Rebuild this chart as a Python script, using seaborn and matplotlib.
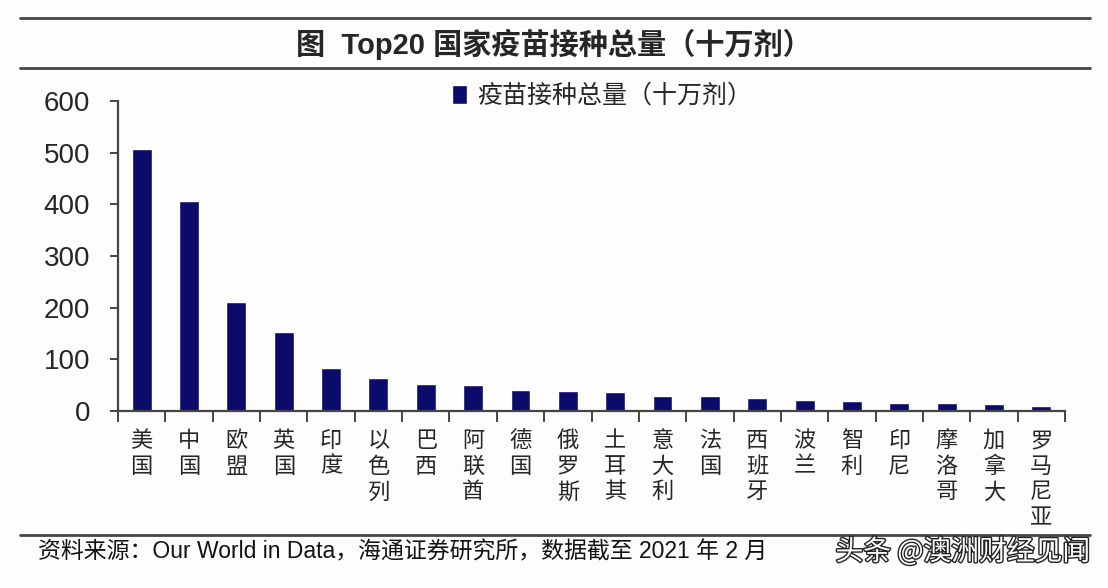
import matplotlib
matplotlib.use("Agg")
import matplotlib.pyplot as plt
import matplotlib.patheffects as pe
from matplotlib.lines import Line2D
import seaborn as sns
import pandas as pd

countries = ["美国", "中国", "欧盟", "英国", "印度", "以色列", "巴西", "阿联酋", "德国", "俄罗斯",
             "土耳其", "意大利", "法国", "西班牙", "波兰", "智利", "印尼", "摩洛哥", "加拿大", "罗马尼亚"]
doses = [507, 406, 211, 152, 84, 64, 52, 51, 40.5, 39,
         37, 29.6, 28.3, 24.5, 20.6, 19.3, 15.5, 14.8, 12.9, 10.3]
series_name = "疫苗接种总量（十万剂）"
title = "图  Top20 国家疫苗接种总量（十万剂）"
source = "资料来源：Our World in Data，海通证券研究所，数据截至 2021 年 2 月"
watermark = "头条 @澳洲财经见闻"
yticks = [0, 100, 200, 300, 400, 500, 600]

sns.set_style("white")
plt.rcParams['font.family'] = ['Liberation Sans', 'Noto Sans CJK SC', 'DejaVu Sans']

df = pd.DataFrame({"country": countries, "doses": doses})

fig = plt.figure(figsize=(11.08, 5.88), dpi=100)
fig.patch.set_facecolor("#fdfdfd")
ax = fig.add_axes([118/1108, 1-411/588, (1065-118)/1108, (411-101)/588])
ax.set_facecolor("#fdfdfd")

sns.barplot(data=df, x="country", y="doses", color="#0b0b6b", width=0.42,
            saturation=1, ax=ax, label=series_name)

ax.set_xlim(-0.5, len(countries) - 0.5)
ax.set_ylim(0, 600)
ax.set_yticks(yticks)
ax.set_yticklabels([str(v) for v in yticks], fontsize=20, family="Liberation Sans")
ax.set_xlabel("")
ax.set_ylabel("")

# vertical category labels
ax.set_xticks(range(len(countries)))
ax.set_xticklabels(["\n".join(c) for c in countries], fontsize=16,
                   family=['Noto Sans CJK SC'], va="top", linespacing=1.15)
ax.tick_params(axis="x", which="major", length=0, pad=13)
ax.set_xticks([i - 0.5 for i in range(len(countries) + 1)], minor=True)
ax.tick_params(axis="x", which="minor", bottom=True, length=8, width=1.4,
               color="#444444", direction="out")
ax.tick_params(axis="y", left=True, length=6, width=1.4, color="#444444",
               direction="out", pad=14)

for s in ["top", "right"]:
    ax.spines[s].set_visible(False)
for s in ["left", "bottom"]:
    ax.spines[s].set_color("#444444")
    ax.spines[s].set_linewidth(1.6)

ax.legend(loc="center left", bbox_to_anchor=(452/1108, 1-96/588),
          bbox_transform=fig.transFigure, frameon=False,
          handlelength=0.6, handleheight=0.8, handletextpad=0.4,
          borderpad=0, borderaxespad=0, prop={'family': ['Noto Sans CJK SC'], 'size': 18})

# rules and header/footer
for yy in [18, 68, 535]:
    fig.add_artist(Line2D([20/1108, 1090/1108], [1-yy/588, 1-yy/588], color="#444444", lw=2))

fig.text(554/1108, 1-44/588, title, ha="center", va="center", fontsize=21, fontweight="bold",
         family=['Liberation Sans', 'Noto Sans CJK SC'])
fig.text(38/1108, 1-552/588, source, ha="left", va="center", fontsize=16.5,
         family=['Liberation Sans', 'Noto Sans CJK SC'], color="#111111")
fig.text(1090/1108, 1-552/588, watermark, ha="right", va="center", fontsize=20,
         family=['Noto Sans CJK SC'], color="white",
         path_effects=[pe.withStroke(linewidth=2, foreground="#222222")])

fig.savefig("out.png", dpi=100, facecolor=fig.get_facecolor())
